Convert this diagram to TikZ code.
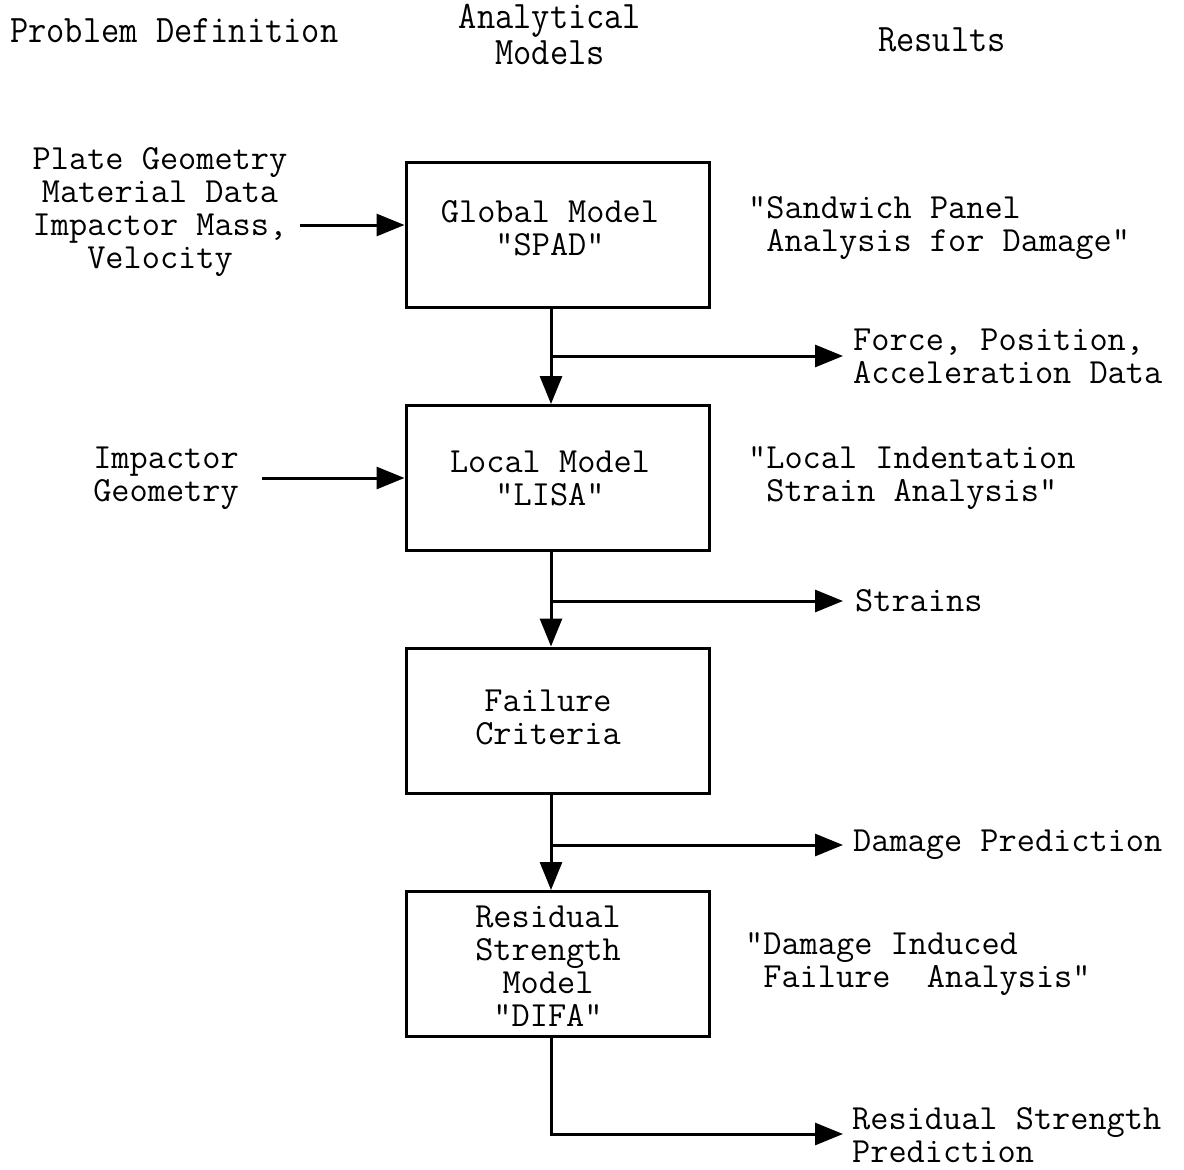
\documentclass[tikz,border=0pt]{standalone}
\usepackage{fontspec}
\usepackage{graphicx}
\usetikzlibrary{arrows.meta}
\newcommand{\tall}[1]{\scalebox{1.0}[1.1]{#1}}
\begin{document}
\begin{tikzpicture}[x=1pt,y=-1pt,
  txt/.style={font=\ttfamily\fontsize{35.3}{33}\selectfont, inner sep=0pt},
  hdr/.style={font=\ttfamily\fontsize{35.4}{33}\selectfont, inner sep=0pt, align=center},
  box/.style={draw, line width=3pt, minimum width=303pt, minimum height=145pt},
  arr/.style={line width=3pt, -{Triangle[length=28pt,width=22pt]}},
  lin/.style={line width=3pt}]
\useasboundingbox (0,0) rectangle (1184,1170);
\fill[white] (0,0) rectangle (1184,1170);

% column headings
\node[hdr, anchor=west] (h1) at (10,31) {\tall{Problem Definition}};
\node[hdr, anchor=north] (h2) at (550,4) {\tall{Analytical}\\[3pt]\tall{Models}};
\node[hdr] (h3) at (942,40) {\tall{Results}};

% model boxes
\node[box] (spad) at (557.5,234.5) {};
\node[box] (lisa) at (557.5,478) {};
\node[box] (fail) at (557.5,720.5) {};
\node[box] (difa) at (557.5,964) {};

% box captions
\node[txt, align=center] (spadt) at (550,228) {Global Model\\"SPAD"};
\node[txt, align=center] (lisat) at (550,478) {Local Model\\"LISA"};
\node[txt, align=center] (failt) at (548,717) {Failure\\Criteria};
\node[txt, align=center] (difat) at (548,966) {Residual\\Strength\\Model\\"DIFA"};

% spine of the flow
\coordinate (col) at (551,0);

% inputs
\node[txt, align=center] (in1) at (160,212)
  {Plate Geometry\\Material Data\\Impactor Mass,\\Velocity};
\node[txt, align=center] (in2) at (166,478) {Impactor\\Geometry};
\coordinate (in1s) at (300,225);
\coordinate (in2s) at (262,478);
\draw[arr] (in1s) -- (spad.west |- in1s);
\draw[arr] (in2s) -- (lisa.west |- in2s);

% result labels
\node[txt, anchor=west, align=left] (r1) at (853,356)
  {Force, Position,\\Acceleration Data};
\node[txt, anchor=west] (r2) at (855,601) {Strains};
\node[txt, anchor=west] (r3) at (853,845) {Damage Prediction};
\node[txt, anchor=west, align=left] (r4) at (852,1135)
  {Residual Strength\\Prediction};

% model descriptions
\node[txt, anchor=west, align=left] (d1) at (748,228.5)
  {"Sandwich Panel\\\hphantom{"}Analysis for Damage"};
\node[txt, anchor=west, align=left] (d2) at (748,478)
  {"Local Indentation\\\hphantom{"}Strain Analysis"};
\node[txt, anchor=west, align=left] (d4) at (745,964)
  {"Damage Induced\\\hphantom{"}Failure\ \ Analysis"};

% branch points and outputs
\coordinate (b1) at (551,356);
\coordinate (b2) at (551,601);
\coordinate (b3) at (551,845);
\coordinate (b4) at (551,1134);
\coordinate (t1) at (843,356);
\coordinate (t2) at (843,601);
\coordinate (t3) at (843,845);
\coordinate (t4) at (843,1134);

\draw[arr] (spad.south -| col) -- (lisa.north -| col);
\draw[arr] (lisa.south -| col) -- (fail.north -| col);
\draw[arr] (fail.south -| col) -- (difa.north -| col);
\draw[arr] (b1) -- (t1);
\draw[arr] (b2) -- (t2);
\draw[arr] (b3) -- (t3);
\draw[arr] (difa.south -| col) -- (b4) -- (t4);
\end{tikzpicture}
\end{document}
